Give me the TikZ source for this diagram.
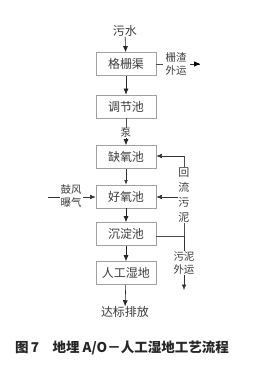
\documentclass[tikz,border=0pt]{standalone}
\usepackage{fontspec}
\newfontfamily\cjk{Noto Sans CJK SC}
\usetikzlibrary{arrows.meta}
\definecolor{boxgray}{RGB}{160,160,160}
\definecolor{txt}{RGB}{60,60,60}
\begin{document}
\begin{tikzpicture}[x=1pt,y=-1pt,
  procbox/.style={draw=boxgray,line width=0.7pt,minimum width=60pt,minimum height=23pt,inner sep=0pt,font=\cjk\fontsize{12}{12}\selectfont,text=txt},
  lbl/.style={font=\cjk\fontsize{12}{12}\selectfont,text=txt,inner sep=0pt},
  side/.style={font=\cjk\fontsize{10.5}{13}\selectfont,text=txt,inner sep=1pt,fill=white,align=center},
  sidenf/.style={font=\cjk\fontsize{10.5}{13}\selectfont,text=txt,inner sep=1pt,align=center},
  flow/.style={draw=black!85,line width=0.6pt,-{Latex[length=6pt,width=5pt]}},
  sideflow/.style={draw=black!80,line width=0.5pt,-{Latex[length=5.5pt,width=4.5pt]}},
  plain/.style={draw=black!70,line width=0.5pt}]
\useasboundingbox (0,0) rectangle (258,376);
\fill[white] (0,0) rectangle (258,376);
\node[lbl] (in) at (125,31) {污水};
\node[procbox] (gs) at (126,64) {格栅渠};
\node[procbox] (tj) at (126,106.5) {调节池};
\node[lbl,font=\cjk\fontsize{10.5}{10.5}\selectfont] (pump) at (126,133) {泵};
\node[procbox] (qy) at (126,157) {缺氧池};
\node[procbox] (hy) at (126,196.5) {好氧池};
\node[procbox] (cd) at (126,234) {沉淀池};
\node[procbox] (sd) at (126,273) {人工湿地};
\node[lbl] (out) at (125,312) {达标排放};

\draw[flow] (in) -- (gs);
\draw[flow] (gs) -- (tj);
\draw[plain] (tj) -- (pump);
\draw[flow] (pump) -- (qy);
\draw[sideflow,-{Latex[length=4.5pt,width=3.5pt]}] (qy) -- (hy);
\draw[flow] (hy) -- (cd);
\draw[flow] (cd) -- (sd);
\draw[flow] (sd) -- (out);

% blower
\coordinate (bstart) at (48,197);
\draw[sideflow] (bstart) -- (hy.west |- bstart);
\node[side] (bf) at (71,196) {鼓风\\曝气};

% return sludge
\coordinate (rb) at (184,236);
\coordinate (rt) at (184,156);
\coordinate (rm) at (184,197);
\coordinate (wd) at (184,290);
\draw[plain] (cd.east |- rb) -- (rb) -- (rt);
\draw[sideflow] (rt) -- (qy.east |- rt);
\draw[sideflow] (rm) -- (hy.east |- rm);
\node[side,font=\cjk\fontsize{11}{15}\selectfont] (hl) at (184,195) {回\\流\\污\\泥};
\draw[sideflow] (rb) -- (wd);
\node[side] (wn) at (184,263) {污泥\\外运};

\node[font=\cjk\bfseries\fontsize{13.5}{13.5}\selectfont,text=black!85,inner sep=0pt] (cap) at (122,348) {图\,7\quad 地埋 A/O－人工湿地工艺流程};

% screenings (label without fill, line pieces and head drawn last)
\node[sidenf] (zz) at (176,64) {栅渣\\外运};
\coordinate (za) at (163,64);
\coordinate (zs) at (190,64);
\coordinate (zend) at (200,64);
\draw[black!70,line width=0.5pt] (gs.east) -- (za);
\draw[black!80,line width=0.6pt] (zs) -- (zend);
\fill[black] (zend) -- ++(-6,-2.6) -- ++(0,5.2) -- cycle;
\end{tikzpicture}
\end{document}
